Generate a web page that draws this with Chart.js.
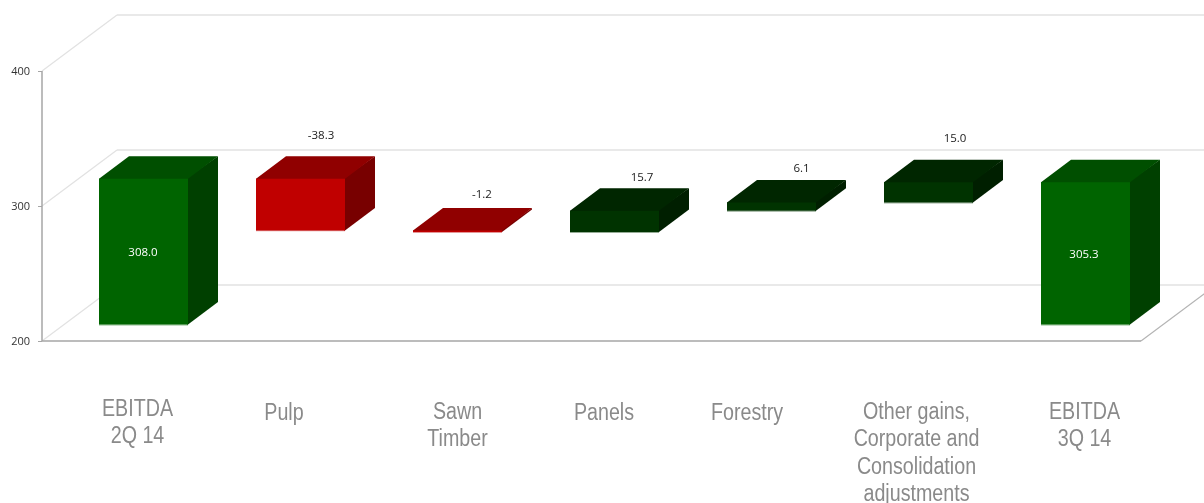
<!DOCTYPE html>
<html><head><meta charset="utf-8">
<style>html,body{margin:0;padding:0;background:#fff;overflow:hidden}#w{width:1204px;height:503px;position:relative}</style>
<script src="https://cdn.jsdelivr.net/npm/chart.js@4"></script>
</head><body><div id="w"><canvas id="c"></canvas></div>
<script>
const categories = [["EBITDA","2Q 14"],["Pulp"],["Sawn","Timber"],["Panels"],["Forestry"],["Other gains,","Corporate and","Consolidation","adjustments"],["EBITDA","3Q 14"]];
const barLows  = [200, 269.7, 268.5, 268.5, 284.2, 290.3, 200];
const barHighs = [308.0, 308.0, 269.7, 284.2, 290.3, 305.3, 305.3];
const valueLabels = ["308.0","-38.3","-1.2","15.7","6.1","15.0","305.3"];
const yTicks = [200,300,400];

const FRONT = ['#006400','#C00000','#C00000','#003300','#003300','#003300','#006400'];
const TOP   = ['#004F00','#900000','#900000','#002600','#002600','#002600','#004F00'];
const SIDE  = ['#004000','#780000','#780000','#001F00','#001F00','#001F00','#004000'];
const EDGE  = ['#3c8a3c','#dd8080','#dd8080','#7f9a7f','#7f9a7f','#7f9a7f','#3c8a3c'];
const OFF = {x:23,y:16.5}, BAR = {x:30,y:22.5}, WALL = {x:75,y:56};
// per-label placement relative to the bar front (centre x, top y)
const valueNudge = [[-0.5,null],[20.5,-43],[24.5,-35.5],[27.5,-33],[30,-34],[26.5,-44],[-1.5,null]];
const catNudge = [-6,-16.5,0,-10.5,-24.5,-12,-1];
const catFirstBase = [416,420,419,420,420,419,419];
const CAT_LINE = 27.4;

function poly(ctx,pts,fill){ctx.beginPath();pts.forEach((p,i)=>i?ctx.lineTo(p[0],p[1]):ctx.moveTo(p[0],p[1]));ctx.closePath();ctx.fillStyle=fill;ctx.fill();}
function seg(ctx,x1,y1,x2,y2,col,w){ctx.beginPath();ctx.moveTo(x1,y1);ctx.lineTo(x2,y2);ctx.strokeStyle=col;ctx.lineWidth=w;ctx.stroke();}

const box3d = {
  id:'box3d',
  beforeDatasetsDraw(chart){
    const {ctx,scales:{x,y}} = chart;
    const L=x.left,R=x.right,W=chart.width;
    ctx.save();
    yTicks.forEach(v=>{
      const p=y.getPixelForValue(v);
      seg(ctx,L,p,L+WALL.x,p-WALL.y,'#e2e2e2',1.3);
      seg(ctx,L+WALL.x,p-WALL.y,W,p-WALL.y,'#e2e2e2',1.5);
    });
    const b=y.getPixelForValue(yTicks[0]);
    seg(ctx,R,b,R+WALL.x,b-WALL.y,'#b4b4b4',1.2);
    seg(ctx,L,b,R,b,'#a6a6a6',1.5);
    seg(ctx,L,y.getPixelForValue(yTicks[2]),L,b,'#a6a6a6',1.5);
    ctx.restore();
    const meta=chart.getDatasetMeta(0);
    ctx.save();
    ctx.translate(OFF.x,-OFF.y);
    meta.data.forEach((el,i)=>{
      const {x:cx,y:ty,base,width}=el.getProps(['x','y','base','width'],true);
      const l=cx-width/2,r=cx+width/2,t=Math.min(ty,base),bt=Math.max(ty,base);
      seg(ctx,l,bt+0.3,r,bt+0.3,EDGE[i],1);
      poly(ctx,[[r-1,bt],[r-1,t-1],[r+BAR.x,t-BAR.y],[r+BAR.x,bt-BAR.y],[r,bt]],SIDE[i]);
      poly(ctx,[[l,t+1],[l,t],[l+BAR.x,t-BAR.y],[r+BAR.x,t-BAR.y],[r,t],[r,t+1]],TOP[i]);
    });
    ctx.restore();
    ctx.save();
    ctx.translate(OFF.x,-OFF.y);
    chart.$shifted=true;
  },
  afterDatasetsDraw(chart){
    const {ctx,scales:{x}} = chart;
    if(chart.$shifted){ctx.restore();chart.$shifted=false;}
    const meta=chart.getDatasetMeta(0);
    ctx.save();
    ctx.textAlign='center';ctx.textBaseline='middle';
    ctx.font='11.5px "Open Sans"';
    meta.data.forEach((el,i)=>{
      const {x:cx,y:ty,base}=el.getProps(['x','y','base'],true);
      const fx=cx+OFF.x, t=Math.min(ty,base)-OFF.y, bt=Math.max(ty,base)-OFF.y;
      const [dx,dy]=valueNudge[i];
      if(dy===null){ctx.fillStyle='#ffffff';ctx.fillText(valueLabels[i],fx+dx,(t+bt)/2+1);}
      else{ctx.fillStyle='#1a1a1a';ctx.fillText(valueLabels[i],fx+dx,t+dy);}
    });
    ctx.restore();
    ctx.save();
    ctx.fillStyle='#8a8a8a';ctx.textAlign='center';ctx.textBaseline='alphabetic';
    ctx.font='23px "Liberation Sans"';
    categories.forEach((lines,i)=>{
      const px=x.getPixelForValue(i)+OFF.x+catNudge[i];
      lines.forEach((s,j)=>{
        ctx.save();ctx.translate(px,catFirstBase[i]+j*CAT_LINE);ctx.scale(0.855,1);ctx.fillText(s,0,0);ctx.restore();
      });
    });
    ctx.restore();
  }
};

new Chart(document.getElementById('c'),{
  type:'bar',
  data:{labels:categories.map(l=>l.join(' ')),datasets:[{
    data:barLows.map((v,i)=>[v,barHighs[i]]),
    backgroundColor:FRONT,borderWidth:0,borderSkipped:false,
    categoryPercentage:1,barPercentage:89/157
  }]},
  options:{
    responsive:true,maintainAspectRatio:false,animation:false,
    layout:{padding:{top:71,right:63,bottom:162,left:0}},
    plugins:{legend:{display:false},tooltip:{enabled:false},title:{display:false}},
    scales:{
      x:{display:true,grid:{display:false},border:{display:false},ticks:{display:false},afterFit(s){s.height=0;}},
      y:{min:200,max:400,afterFit(s){s.width=42;},
        grid:{drawOnChartArea:false,drawTicks:true,tickLength:4,color:'#a6a6a6'},border:{display:false},
        afterBuildTicks(s){s.ticks=yTicks.map(v=>({value:v}));},
        ticks:{padding:8,labelOffset:1,color:'#333333',font:{family:'"Open Sans"',size:11}}}
    }
  },
  plugins:[box3d]
});
</script></body></html>
